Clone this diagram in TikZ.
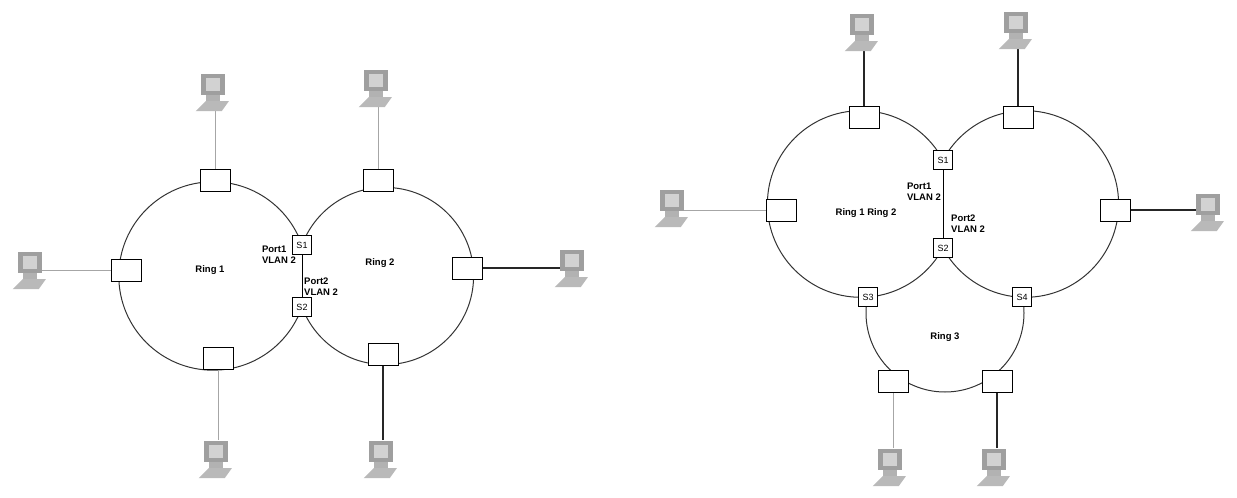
\documentclass[tikz,border=0pt]{standalone}
\usepackage{fontspec}
\setmainfont{Liberation Sans}
\begin{document}
\begin{tikzpicture}[x=1pt,y=-1pt,
  ring/.style={line width=1pt,black!80},
  box/.style={draw,line width=1pt,fill=white,minimum width=30pt,minimum height=22pt,inner sep=0pt},
  sw/.style={draw,line width=1pt,fill=white,minimum width=19pt,minimum height=19pt,inner sep=0pt,font=\fontsize{9}{10}\selectfont},
  thin/.style={gray!70,line width=0.8pt},
  thick/.style={black!85,line width=1.3pt},
  lbl/.style={font=\bfseries\fontsize{9.5}{11}\selectfont,align=left,inner sep=0pt}]
\useasboundingbox (0,0) rectangle (1237,498);
\tikzset{pics/computer/.style={code={
  \begin{scope}[scale=1.45]
  \fill[gray!55] (-5,9) -- (11,9) -- (6,16) -- (-12,16) -- cycle;
  \fill[gray!75] (-8,-10) rectangle (8,5);
  \fill[gray!35] (-5,-7) rectangle (5,2);
  \fill[gray!60] (-5,5) rectangle (5,9);
  \end{scope}
}}}
% rings left
\begin{scope}\clip (0,0) rectangle (302,498); \draw[ring] (213,276) circle[radius=94.2]; \end{scope}
\begin{scope}\clip (302,0) rectangle (620,498); \draw[ring] (385,276) circle[radius=88.6]; \end{scope}
% rings right
\begin{scope}\clip (620,0) rectangle (943,498); \draw[ring] (860.7,204) circle[radius=93.3]; \end{scope}
\begin{scope}\clip (943,0) rectangle (1237,498); \draw[ring] (1025.3,204) circle[radius=93.3]; \end{scope}
\begin{scope}\clip (700,297) rectangle (1237,498); \draw[ring] (945,313) circle[radius=79]; \end{scope}
% boxes left
\coordinate (b1) at (215,180); \coordinate (b2) at (378,180);
\coordinate (b3) at (126,270); \coordinate (b4) at (467,268);
\coordinate (b5) at (218,358); \coordinate (b6) at (383,354);
\coordinate (p1) at (215,100); \coordinate (p2) at (378,96);
\coordinate (p3) at (40,270); \coordinate (p4) at (562,268);
\coordinate (p5) at (218,440); \coordinate (p6) at (383,440);
\draw[thin] (p1) -- (b1);
\draw[thin] (p2) -- (b2);
\draw[thin] (p3) -- (b3);
\draw[thick] (p4) -- (b4);
\draw[thin] (p5) -- (b5);
\draw[thick] (p6) -- (b6);
\foreach \p in {p1,p2} \path (\p) ++(-2,-12) pic{computer};
\foreach \p in {p5,p6} \path (\p) ++(-2,15) pic{computer};
\path (p3) ++(-10,-4) pic{computer};
\path (p4) ++(10,-4) pic{computer};
\foreach \b in {b1,b2,b3,b4,b5,b6} \node[box] at (\b) {};
\node[sw] (s1) at (302,245) {S1};
\node[sw] (s2) at (302,307) {S2};
\draw[line width=0.8pt] (s1) -- (s2);
\node[lbl] at (210,270) {Ring 1};
\node[lbl] at (380,263) {Ring 2};
\node[lbl,anchor=east] at (296,255) {Port1\\VLAN 2};
\node[lbl,anchor=west] at (304,287) {Port2\\VLAN 2};
% boxes right
\coordinate (c1) at (864,117); \coordinate (c2) at (1018,117);
\coordinate (c3) at (781,210); \coordinate (c4) at (1115,210);
\coordinate (c5) at (893,381); \coordinate (c6) at (997,381);
\coordinate (q1) at (864,40); \coordinate (q2) at (1018,38);
\coordinate (q3) at (684,210); \coordinate (q4) at (1196,210);
\coordinate (q5) at (893,448); \coordinate (q6) at (997,448);
\draw[thick] (q1) -- (c1);
\draw[thick] (q2) -- (c2);
\draw[thin] (q3) -- (c3);
\draw[thick] (q4) -- (c4);
\draw[thin] (q5) -- (c5);
\draw[thick] (q6) -- (c6);
\foreach \p in {q1,q2} \path (\p) ++(-2,-12) pic{computer};
\foreach \p in {q5,q6} \path (\p) ++(-3,15) pic{computer};
\path (q3) ++(-12,-6) pic{computer};
\path (q4) ++(12,-2) pic{computer};
\foreach \b in {c1,c2,c3,c4,c5,c6} \node[box] at (\b) {};
\node[sw] (t1) at (943,160) {S1};
\node[sw] (t2) at (943,248) {S2};
\node[sw] (t3) at (868,297) {S3};
\node[sw] (t4) at (1022,297) {S4};
\draw[line width=1pt] (t1) -- (t2);
\node[lbl,anchor=east] at (941,192) {Port1\\VLAN 2};
\node[lbl,anchor=west] at (951,224) {Port2\\VLAN 2};
\node[lbl] at (866,213) {Ring 1 Ring 2};
\node[lbl] at (945,337) {Ring 3};
\end{tikzpicture}
\end{document}
